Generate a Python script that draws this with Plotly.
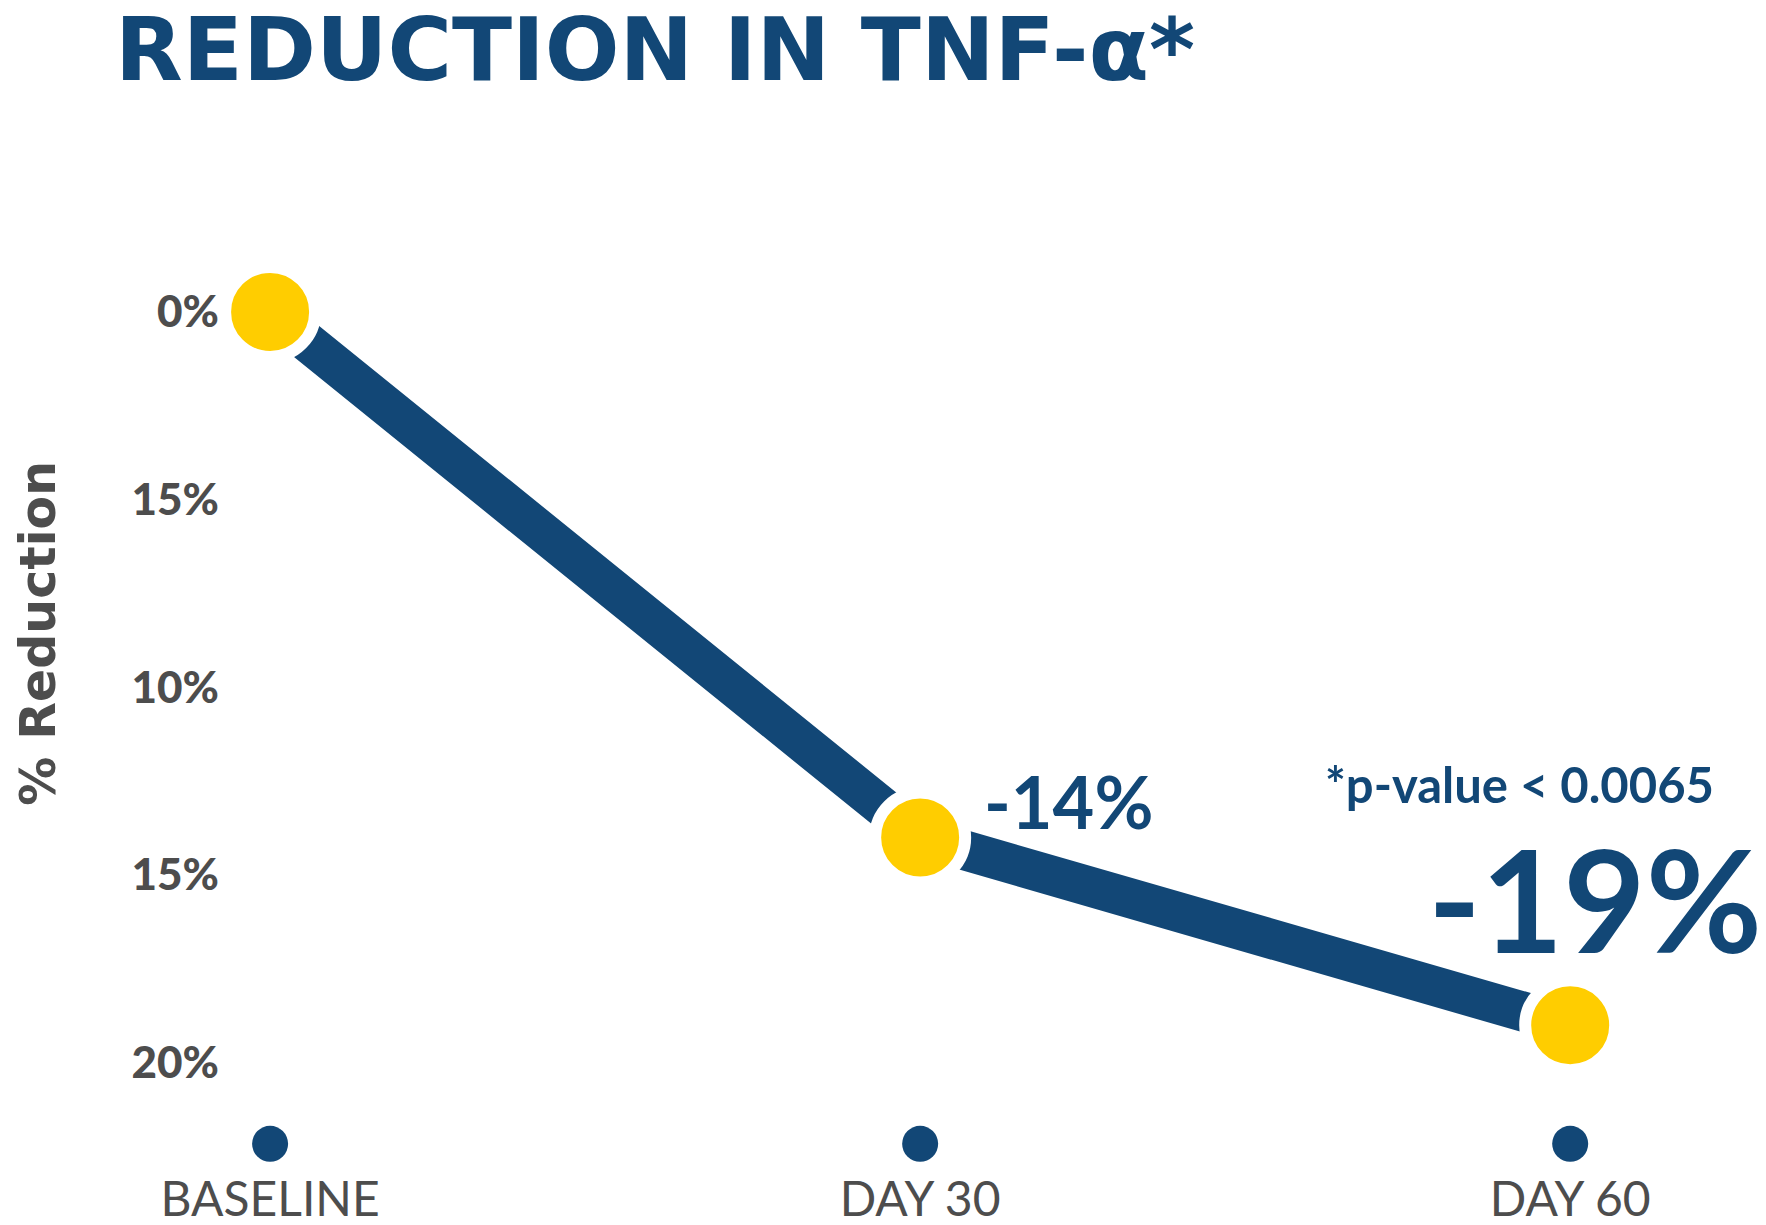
import plotly.graph_objects as go

# data
timepoints = ["BASELINE", "DAY 30", "DAY 60"]
reduction = [0, -14, -19]
y_tick_vals = [0, -5, -10, -15, -20]
y_tick_text = ["0%", "15%", "10%", "15%", "20%"]
callouts = ["", "-14%", "-19%"]
p_note = "*p-value < 0.0065"

BLUE = "#124776"
YELLOW = "#FFCD00"
GREY = "#4D4D4D"

xs = list(range(len(timepoints)))
yrange = [-22.67, 4.90]

fig = go.Figure()

# thick line with yellow dots (white ring cuts the line)
fig.add_trace(go.Scatter(
    x=xs, y=reduction, mode="lines+markers",
    line=dict(color=BLUE, width=40),
    marker=dict(color=YELLOW, size=90, line=dict(color="white", width=12)),
    cliponaxis=False, showlegend=False, hoverinfo="skip"))

# small blue dots above the time labels
fig.add_trace(go.Scatter(
    x=xs, y=[yrange[0] + 0.51] * len(xs), mode="markers",
    marker=dict(color=BLUE, size=36),
    cliponaxis=False, showlegend=False, hoverinfo="skip"))

fig.add_annotation(x=1, y=reduction[1], text=callouts[1], showarrow=False,
                   xanchor="left", yanchor="middle", xshift=62, yshift=37,
                   font=dict(family="Lato", size=72, color=BLUE, weight="bold"))
fig.add_annotation(x=2, y=reduction[2], text=callouts[2], showarrow=False,
                   xanchor="right", yanchor="middle", xshift=194, yshift=127,
                   font=dict(family="Lato", size=142, color=BLUE, weight="bold"))
fig.add_annotation(x=2, y=reduction[2], text=p_note, showarrow=False,
                   xanchor="right", yanchor="middle", xshift=146, yshift=241,
                   font=dict(family="Lato", size=49, color=BLUE, weight="bold"))

# y axis title
fig.add_annotation(xref="paper", yref="paper", x=-0.144, y=0.512,
                   text="% Reduction", textangle=-90, showarrow=False,
                   xanchor="center", yanchor="middle",
                   font=dict(family="DejaVu Sans", size=49, color=GREY, weight="bold"))

# chart title
fig.add_annotation(xref="paper", yref="paper", x=-0.0923, y=1, yshift=132,
                   text="REDUCTION IN TNF-α*", showarrow=False,
                   xanchor="left", yanchor="top",
                   font=dict(family="DejaVu Sans", size=88, color=BLUE, weight="bold"))

fig.update_layout(
    width=1766, height=1225,
    margin=dict(l=240, r=66, t=120, b=70),
    paper_bgcolor="white", plot_bgcolor="white",
    xaxis=dict(range=[-0.034, 2.212], tickvals=xs, ticktext=timepoints,
               showgrid=False, zeroline=False, showline=False, ticks="",
               automargin=False, ticklabelstandoff=4,
               tickfont=dict(family="Lato", size=48, color=GREY)),
    yaxis=dict(range=yrange, tickvals=y_tick_vals, ticktext=y_tick_text,
               showgrid=False, zeroline=False, showline=False, ticks="",
               automargin=False, ticklabelstandoff=28,
               tickfont=dict(family="Lato", size=44, color=GREY, weight=900)),
)

fig.write_html("out.html")
